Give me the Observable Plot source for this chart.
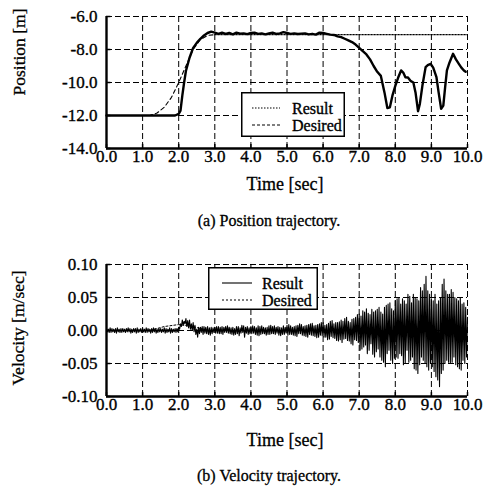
<!DOCTYPE html>
<html><head><meta charset="utf-8">
<script src="https://cdn.jsdelivr.net/npm/d3@7"></script>
<script src="https://cdn.jsdelivr.net/npm/@observablehq/plot@0.6"></script>
<style>
body{margin:0;background:#fff;}
#fig{position:relative;width:484px;height:486px;font-family:"Liberation Serif","Times New Roman",Times,"DejaVu Serif",serif;color:#000;overflow:hidden;}
.abs{position:absolute;white-space:nowrap;line-height:1;-webkit-text-stroke:0.3px #000;}
.ylab{font-size:17.5px;transform:translate(-50%,-50%) rotate(-90deg);}
.xlab{font-size:18px;transform:translate(-50%,-50%);}
.cap{font-size:16px;transform:translate(-50%,-50%);}
.panel{position:absolute;left:0;}
.leg{position:absolute;}
.panel text,.leg text{stroke:#000;stroke-width:0.35px;}
</style></head><body><div id="fig"></div>
<script>
// ---- shared axis data ----
const xTicks = [0,1,2,3,4,5,6,7,8,9,10];
const posTicks = [-14,-12,-10,-8,-6];
const velTicks = [-0.10,-0.05,0,0.05,0.10];

// ---- (a) position: Result (time, value) ----
const posResultT = [0,1.0,1.9,2.0,2.05,2.1,2.15,2.2,2.3,2.4,2.5,2.6,2.7,2.8,2.9,3.0,3.1,3.2,3.3,3.4,3.5,3.6,3.7,3.8,3.9,4.0,4.1,4.2,4.3,4.4,4.5,4.6,4.7,4.8,4.9,5.0,5.1,5.2,5.3,5.4,5.5,5.6,5.7,5.8,5.9,6.0,6.1,6.2,6.3,6.4,6.5,6.6,6.7,6.8,6.9,7.0,7.1,7.2,7.3,7.4,7.5,7.6,7.65,7.7,7.78,7.85,7.92,8.0,8.08,8.16,8.22,8.28,8.35,8.42,8.5,8.56,8.63,8.68,8.75,8.84,8.9,8.98,9.05,9.14,9.2,9.27,9.33,9.38,9.43,9.5,9.6,9.68,9.76,9.83,9.9,9.95];
const posResultV = [-12.0,-12.0,-12.0,-11.9,-11.7,-10.8,-10.0,-9.3,-8.5,-7.9,-7.6,-7.35,-7.15,-7.0,-6.92,-6.98,-7.05,-6.98,-7.06,-7.0,-7.08,-6.98,-7.04,-7.02,-7.07,-7.0,-6.98,-7.05,-7.02,-7.08,-7.03,-6.98,-7.06,-7.02,-6.95,-7.0,-7.05,-7.02,-7.06,-7.04,-7.02,-7.08,-7.05,-7.1,-6.98,-7.0,-7.05,-7.1,-7.12,-7.2,-7.25,-7.35,-7.45,-7.55,-7.7,-7.9,-8.1,-8.3,-8.6,-9.0,-9.35,-9.6,-10.1,-10.6,-11.55,-11.5,-10.8,-10.2,-9.7,-9.27,-9.4,-9.68,-9.7,-9.9,-10.0,-10.6,-11.74,-11.3,-10.2,-9.07,-8.95,-8.87,-9.1,-9.68,-10.6,-11.6,-11.4,-10.3,-9.27,-8.8,-8.26,-8.6,-8.87,-9.1,-9.27,-9.35];
// ---- (a) position: Desired ----
const posDesiredT = [0,1.2,1.4,1.6,1.8,2.0,2.2,2.4,2.6,2.8,3.0,10.0];
const posDesiredV = [-12.0,-12.0,-11.85,-11.5,-10.9,-10.0,-9.0,-8.0,-7.4,-7.15,-7.1,-7.1];

// ---- (b) velocity: Result, values in 0.001 m/s ----
const velStep = 0.05;
// upper swings, at t = 0, 0.05, ... 10.0
const velUpperMilli = [
 3,2,4,3,2,3,4,2,3,3,
 2,3,4,3,2,3,3,4,2,3,
 3,2,4,3,2,3,4,3,2,3,
 3,2,4,3,2,4,3,2,3,3,
 5,10,16,14,18,15,16,10,12,8,
 2,5,5,6,6,5,6,4,5,4,
 5,6,6,5,6,5,6,7,5,4,
 5,3,6,6,4,8,7,5,6,4,
 6,7,6,4,7,6,7,5,4,5,
 7,8,6,7,5,6,5,4,7,5,
 8,9,7,5,6,7,8,10,9,6,
 7,8,9,10,11,7,8,9,10,12,
 12,8,9,11,14,15,10,12,12,13,
 16,14,18,20,14,12,17,18,20,24,
 25,22,30,28,33,26,24,32,28,30,
 32,35,28,25,35,38,40,42,33,30,
 45,48,50,40,48,45,40,55,52,42,
 55,50,48,45,65,60,70,82,60,55,
 48,45,55,40,45,50,70,78,60,55,
 55,62,58,50,48,45,50,40,42,35,
 20];
// lower swings, at t = 0.025, 0.075, ... 9.975
const velLowerMilli = [
 -2,-3,-3,-2,-3,-4,-2,-3,-3,-2,
 -3,-2,-2,-4,-3,-2,-4,-3,-2,-3,
 -2,-3,-3,-2,-4,-3,-2,-4,-3,-2,
 -3,-2,-4,-3,-2,-4,-3,-2,-3,-2,
 2,6,8,10,6,4,2,0,-2,-6,
 -10,-5,-3,-6,-4,-5,-6,-7,-5,-3,
 -4,-4,-5,-5,-6,-3,-3,-4,-5,-6,
 -7,-6,-5,-8,-4,-3,-10,-4,-6,-5,
 -5,-4,-6,-7,-8,-6,-5,-5,-7,-6,
 -6,-5,-5,-6,-4,-7,-8,-6,-6,-4,
 -7,-6,-6,-7,-8,-9,-5,-5,-7,-8,
 -9,-10,-6,-7,-8,-9,-11,-10,-7,-8,
 -10,-10,-14,-13,-9,-11,-12,-15,-16,-14,
 -18,-13,-12,-15,-16,-20,-22,-14,-15,-18,
 -30,-28,-25,-22,-35,-30,-20,-36,-40,-32,
 -28,-40,-45,-48,-55,-35,-30,-45,-50,-42,
 -40,-42,-35,-38,-52,-50,-30,-48,-45,-40,
 -58,-60,-65,-52,-40,-45,-50,-55,-60,-50,
 -55,-62,-70,-75,-85,-65,-60,-50,-45,-48,
 -50,-48,-40,-52,-55,-58,-60,-45,-50,-40];
// ---- (b) velocity: Desired ----
const velDesiredT = [0,1.2,1.6,2.0,2.4,2.8,10.0];
const velDesiredV = [0,0,0.006,0.009,0.006,0,0];

// ---- build tables ----
const posResult = posResultT.map((t,i)=>({t, v: posResultV[i]}));
const posDesired = posDesiredT.map((t,i)=>({t, v: posDesiredV[i]}));
const velResult = velUpperMilli.map((m,i)=>({t: i*velStep, v: m/1000}))
  .concat(velLowerMilli.map((m,i)=>({t: i*velStep + velStep/2, v: m/1000})))
  .sort((a,b)=>a.t-b.t);
const velDesired = velDesiredT.map((t,i)=>({t, v: velDesiredV[i]}));

const FONT = '"Liberation Serif","Times New Roman",Times,"DejaVu Serif",serif';
const fig = document.getElementById('fig');

function panel(yDomain, yTicks, yFmt, dataMarks, tickLen){
  const svg = Plot.plot({
    width: 484, height: 200,
    marginLeft: 106, marginRight: 17, marginTop: 16, marginBottom: 52,
    style: {fontFamily: FONT, fontSize: "17px", color: "#000", background: "#fff", overflow: "visible"},
    x: {domain: [0,10], ticks: xTicks, tickFormat: d => d.toFixed(1), tickSize: 0, tickPadding: 1, label: null},
    y: {domain: yDomain, ticks: yTicks, tickFormat: yFmt, tickSize: 0, tickPadding: 9, label: null},
    marks: [
      Plot.ruleX(xTicks, {stroke: "#000", strokeWidth: 1, strokeDasharray: "6,3"}),
      Plot.ruleY(yTicks, {stroke: "#000", strokeWidth: 1, strokeDasharray: "6,3"}),
      ...dataMarks,
      Plot.ruleX(xTicks, {y1: yDomain[0], y2: yDomain[0] + tickLen, stroke: "#000", strokeWidth: 1.5}),
      Plot.ruleY(yTicks, {x1: 0, x2: 0.12, stroke: "#000", strokeWidth: 1.5}),
      Plot.ruleX([0], {stroke: "#000", strokeWidth: 2.4}),
      Plot.ruleY([yDomain[0]], {stroke: "#000", strokeWidth: 2.4})
    ]
  });
  svg.querySelectorAll('text').forEach(t => { t.setAttribute('font-family', FONT); t.style.fontFamily = FONT; });
  return svg;
}

const p1 = panel([-14,-6], posTicks, d => d.toFixed(1), [
  Plot.line(posDesired.filter(d => d.t <= 3.0), {x: "t", y: "v", stroke: "#000", strokeWidth: 1.1, strokeDasharray: "4,3"}),
  Plot.line(posDesired.filter(d => d.t >= 3.0), {x: "t", y: "v", stroke: "#000", strokeWidth: 1.1, strokeDasharray: "1.5,1.5"}),
  Plot.line(posResult, {x: "t", y: "v", stroke: "#000", strokeWidth: 2.4})
], 0.25);
p1.classList.add('panel'); p1.style.top = '0px';
fig.appendChild(p1);

const p2 = panel([-0.10,0.10], velTicks, d => d.toFixed(2), [
  Plot.line(velDesired, {x: "t", y: "v", stroke: "#000", strokeWidth: 1, strokeDasharray: "2,2"}),
  Plot.line(velResult, {x: "t", y: "v", stroke: "#000", strokeWidth: 1.1})
], 0.006);
p2.classList.add('panel'); p2.style.top = '248px';
fig.appendChild(p2);

function addText(cls, txt, x, y){
  const d = document.createElement('div');
  d.className = 'abs ' + cls; d.textContent = txt;
  d.style.left = x + 'px'; d.style.top = y + 'px';
  fig.appendChild(d);
}
addText('ylab', 'Position [m]', 20, 52);
addText('ylab', 'Velocity [m/sec]', 19, 328);
addText('xlab', 'Time [sec]', 285, 184);
addText('xlab', 'Time [sec]', 285, 440);
addText('cap', '(a) Position trajectory.', 269, 221);
addText('cap', '(b) Velocity trajectory.', 269, 476);

// legends
const legendLabels = ["Result", "Desired"];
function legend(left, top, w, h, dashes, x1, x2, tx){
  const ns = "http://www.w3.org/2000/svg";
  const svg = document.createElementNS(ns, "svg");
  svg.setAttribute("width", w); svg.setAttribute("height", h);
  svg.setAttribute("class", "leg");
  svg.style.left = left + "px"; svg.style.top = top + "px";
  const r = document.createElementNS(ns, "rect");
  r.setAttribute("x", 0.75); r.setAttribute("y", 0.75); r.setAttribute("width", w - 1.5); r.setAttribute("height", h - 1.5);
  r.setAttribute("fill", "#fff"); r.setAttribute("stroke", "#000"); r.setAttribute("stroke-width", 1.5);
  svg.appendChild(r);
  legendLabels.forEach((lab, i) => {
    const y = 16 + i * 17;
    const l = document.createElementNS(ns, "line");
    l.setAttribute("x1", x1); l.setAttribute("x2", x2); l.setAttribute("y1", y); l.setAttribute("y2", y);
    l.setAttribute("stroke", "#000"); l.setAttribute("stroke-width", 1.1);
    if (dashes[i]) l.setAttribute("stroke-dasharray", dashes[i]);
    svg.appendChild(l);
    const t = document.createElementNS(ns, "text");
    t.setAttribute("x", tx); t.setAttribute("y", y); t.setAttribute("dy", "0.35em");
    t.setAttribute("font-family", FONT); t.setAttribute("font-size", 16);
    t.textContent = lab;
    svg.appendChild(t);
  });
  fig.appendChild(svg);
}
legend(241, 92, 104, 45, ["1.5,1.5", "3,2"], 11, 39, 51);
legend(208, 267, 110, 43, [null, "2,2"], 14, 44, 54);
</script></body></html>
